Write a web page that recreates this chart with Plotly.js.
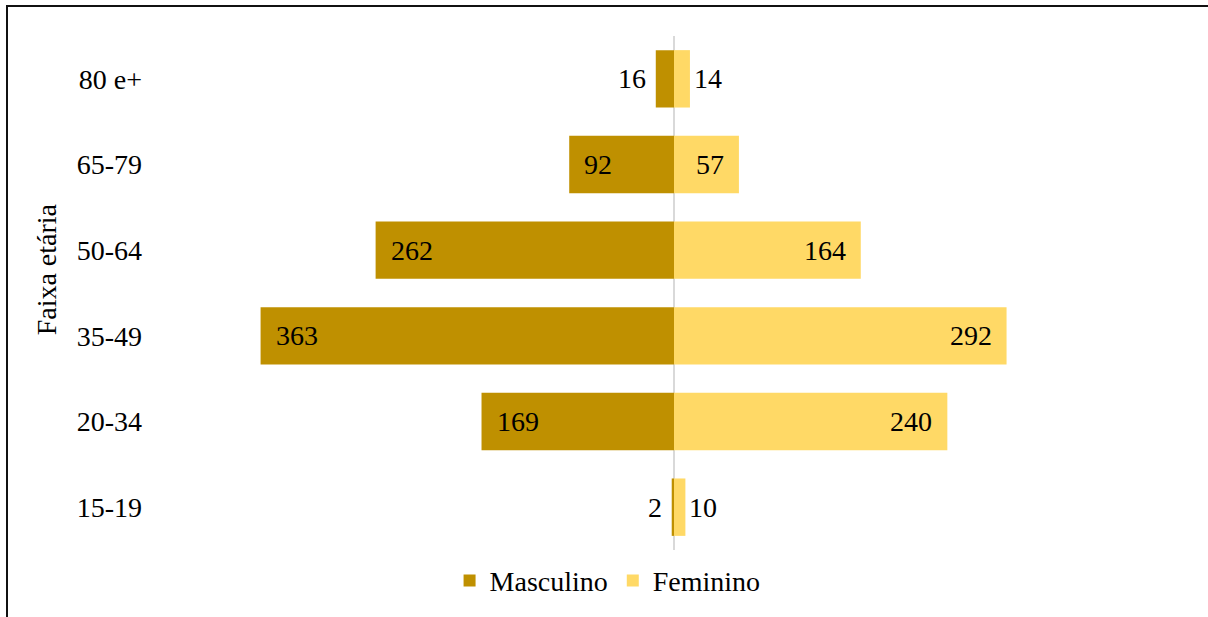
<!DOCTYPE html>
<html>
<head>
<meta charset="utf-8">
<script src="https://cdn.plot.ly/plotly-3.0.1.min.js"></script>
<style>
  html, body { margin: 0; padding: 0; background: #fff; }
  #wrap { position: relative; width: 1208px; height: 617px; }
  #chart { width: 1208px; height: 617px; }
  #frame { position: absolute; left: 6px; top: 5px; width: 1210px; height: 620px;
           border-left: 2px solid #111; border-top: 2px solid #111; pointer-events: none; }
</style>
</head>
<body>
<div id="wrap">
  <div id="chart"></div>
  <div id="frame"></div>
</div>
<script>
// Data (bottom to top)
const faixas = ["15-19", "20-34", "35-49", "50-64", "65-79", "80 e+"];
const masculino = [2, 169, 363, 262, 92, 16];
const feminino = [10, 240, 292, 164, 57, 14];
const seriesNames = ["Masculino", "Feminino"];
const axisTitle = "Faixa etária";

const FONT = "Times New Roman, Liberation Serif, Times, serif";
const FS = 28;
const colM = "#BF9000";
const colF = "#FFD966";

const traces = [
  {
    type: "bar", orientation: "h", name: seriesNames[0],
    y: faixas, x: masculino.map(v => -v),
    marker: { color: colM, line: { width: 0 } },
    hoverinfo: "skip", width: 0.67
  },
  {
    type: "bar", orientation: "h", name: seriesNames[1],
    y: faixas, x: feminino,
    marker: { color: colF, line: { width: 0 } },
    hoverinfo: "skip", width: 0.67
  }
];

// Data labels: inside end for large bars, outside for small ones
const annotations = [];
const threshold = 20;
faixas.forEach((cat, i) => {
  const m = masculino[i];
  const inM = m >= threshold;
  annotations.push({
    x: -m, y: cat, xref: "x", yref: "y", text: String(m), showarrow: false,
    xanchor: inM ? "left" : "right", xshift: inM ? 13 : -8, yanchor: "middle",
    font: { family: FONT, size: FS, color: "#000" }
  });
  const f = feminino[i];
  const inF = f >= threshold;
  annotations.push({
    x: f, y: cat, xref: "x", yref: "y", text: String(f), showarrow: false,
    xanchor: inF ? "right" : "left", xshift: inF ? -13 : 2, yanchor: "middle",
    font: { family: FONT, size: FS, color: "#000" }
  });
});
annotations.push({
  xref: "paper", yref: "paper", x: -0.105, y: 0.546, text: axisTitle,
  textangle: -90, showarrow: false, xanchor: "center", yanchor: "middle",
  font: { family: FONT, size: FS, color: "#000" }
});

const layout = {
  width: 1208, height: 617,
  margin: { l: 155, r: 15, t: 36, b: 66 },
  paper_bgcolor: "#fff", plot_bgcolor: "#fff",
  barmode: "relative",
  font: { family: FONT, size: FS, color: "#000" },
  xaxis: {
    range: [-455.7, 455.7], showticklabels: false, showgrid: false,
    zeroline: true, zerolinecolor: "#D9D9D9", zerolinewidth: 2,
    layer: "above traces", fixedrange: true
  },
  yaxis: {
    type: "category", categoryorder: "array", categoryarray: faixas,
    showgrid: false, zeroline: false, showline: false, ticks: "",
    ticklabelstandoff: 12,
    tickfont: { family: FONT, size: FS, color: "#000" }, fixedrange: true
  },
  showlegend: true,
  legend: {
    orientation: "h", x: 0.436, xanchor: "center", y: -0.058, yanchor: "middle",
    font: { family: FONT, size: FS, color: "#000" },
    itemwidth: 30, traceorder: "normal", bgcolor: "rgba(0,0,0,0)"
  },
  annotations: annotations
};

Plotly.newPlot("chart", traces, layout, { displayModeBar: false, staticPlot: true });
</script>
</body>
</html>
